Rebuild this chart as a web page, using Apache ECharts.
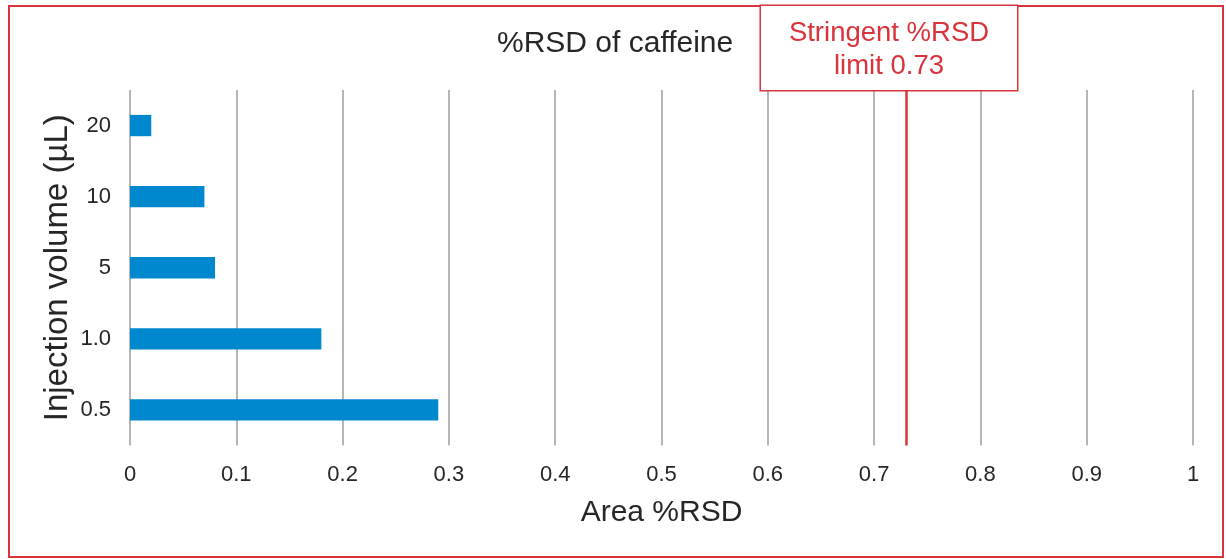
<!DOCTYPE html>
<html>
<head>
<meta charset="utf-8">
<script src="https://cdn.jsdelivr.net/npm/echarts@6/dist/echarts.min.js"></script>
<style>
html,body{margin:0;padding:0;background:#fff;}
#c{width:1226px;height:559px;}
</style>
</head>
<body>
<div id="c"></div>
<script>
var categories = ['0.5', '1.0', '5', '10', '20'];
var rsdValues = [0.29, 0.18, 0.08, 0.07, 0.02];
var limitValue = 0.73;
var limitLabel = 'Stringent %RSD\nlimit 0.73';
var xTicks = {min: 0, max: 1, interval: 0.1};

var chart = echarts.init(document.getElementById('c'));
var FONT = 'Liberation Sans, Arial, sans-serif';
var RED = '#d9343c';
chart.setOption({
  animation: false,
  title: {
    text: '%RSD of caffeine',
    left: 497,
    top: 29,
    padding: 0,
    textStyle: {fontFamily: FONT, fontSize: 30, fontWeight: 'normal', color: '#262626'}
  },
  graphic: [{
    type: 'rect',
    shape: {x: 9, y: 6, width: 1214, height: 551},
    style: {fill: 'none', stroke: RED, lineWidth: 2},
    z: -1
  }],
  grid: {left: 130, right: 33, top: 90, bottom: 113.5, containLabel: false},
  xAxis: {
    type: 'value',
    min: xTicks.min,
    max: xTicks.max,
    interval: xTicks.interval,
    name: 'Area %RSD',
    nameLocation: 'middle',
    nameGap: 52,
    nameMoveOverlap: false,
    nameTextStyle: {fontFamily: FONT, fontSize: 30, color: '#262626'},
    axisLine: {show: false},
    axisTick: {show: false},
    axisLabel: {fontFamily: FONT, fontSize: 22, color: '#262626', margin: 18,
      formatter: function (v) { return String(Math.round(v * 10) / 10); }},
    splitLine: {show: true, lineStyle: {color: '#9e9e9e', width: 1.5}}
  },
  yAxis: {
    type: 'category',
    data: categories,
    name: 'Injection volume (µL)',
    nameLocation: 'middle',
    nameGap: 56,
    nameMoveOverlap: false,
    nameTextStyle: {fontFamily: FONT, fontSize: 33, color: '#262626'},
    axisLine: {show: false},
    axisTick: {show: false},
    axisLabel: {fontFamily: FONT, fontSize: 22, color: '#262626', margin: 19},
    splitLine: {show: false}
  },
  series: [{
    type: 'bar',
    data: rsdValues,
    barWidth: '30%',
    itemStyle: {color: '#0088ce'},
    markLine: {
      silent: true,
      symbol: 'none',
      lineStyle: {color: RED, width: 2.5, type: 'solid'},
      data: [{xAxis: limitValue}],
      label: {
        show: true,
        position: 'end',
        distance: 0,
        offset: [-17, 0],
        formatter: limitLabel,
        fontFamily: FONT,
        fontSize: 27.5,
        lineHeight: 33,
        color: RED,
        align: 'center',
        backgroundColor: '#fff',
        borderColor: RED,
        borderWidth: 1.5,
        width: 256,
        padding: [11, 0, 7, 0]
      }
    }
  }]
});
</script>
</body>
</html>
